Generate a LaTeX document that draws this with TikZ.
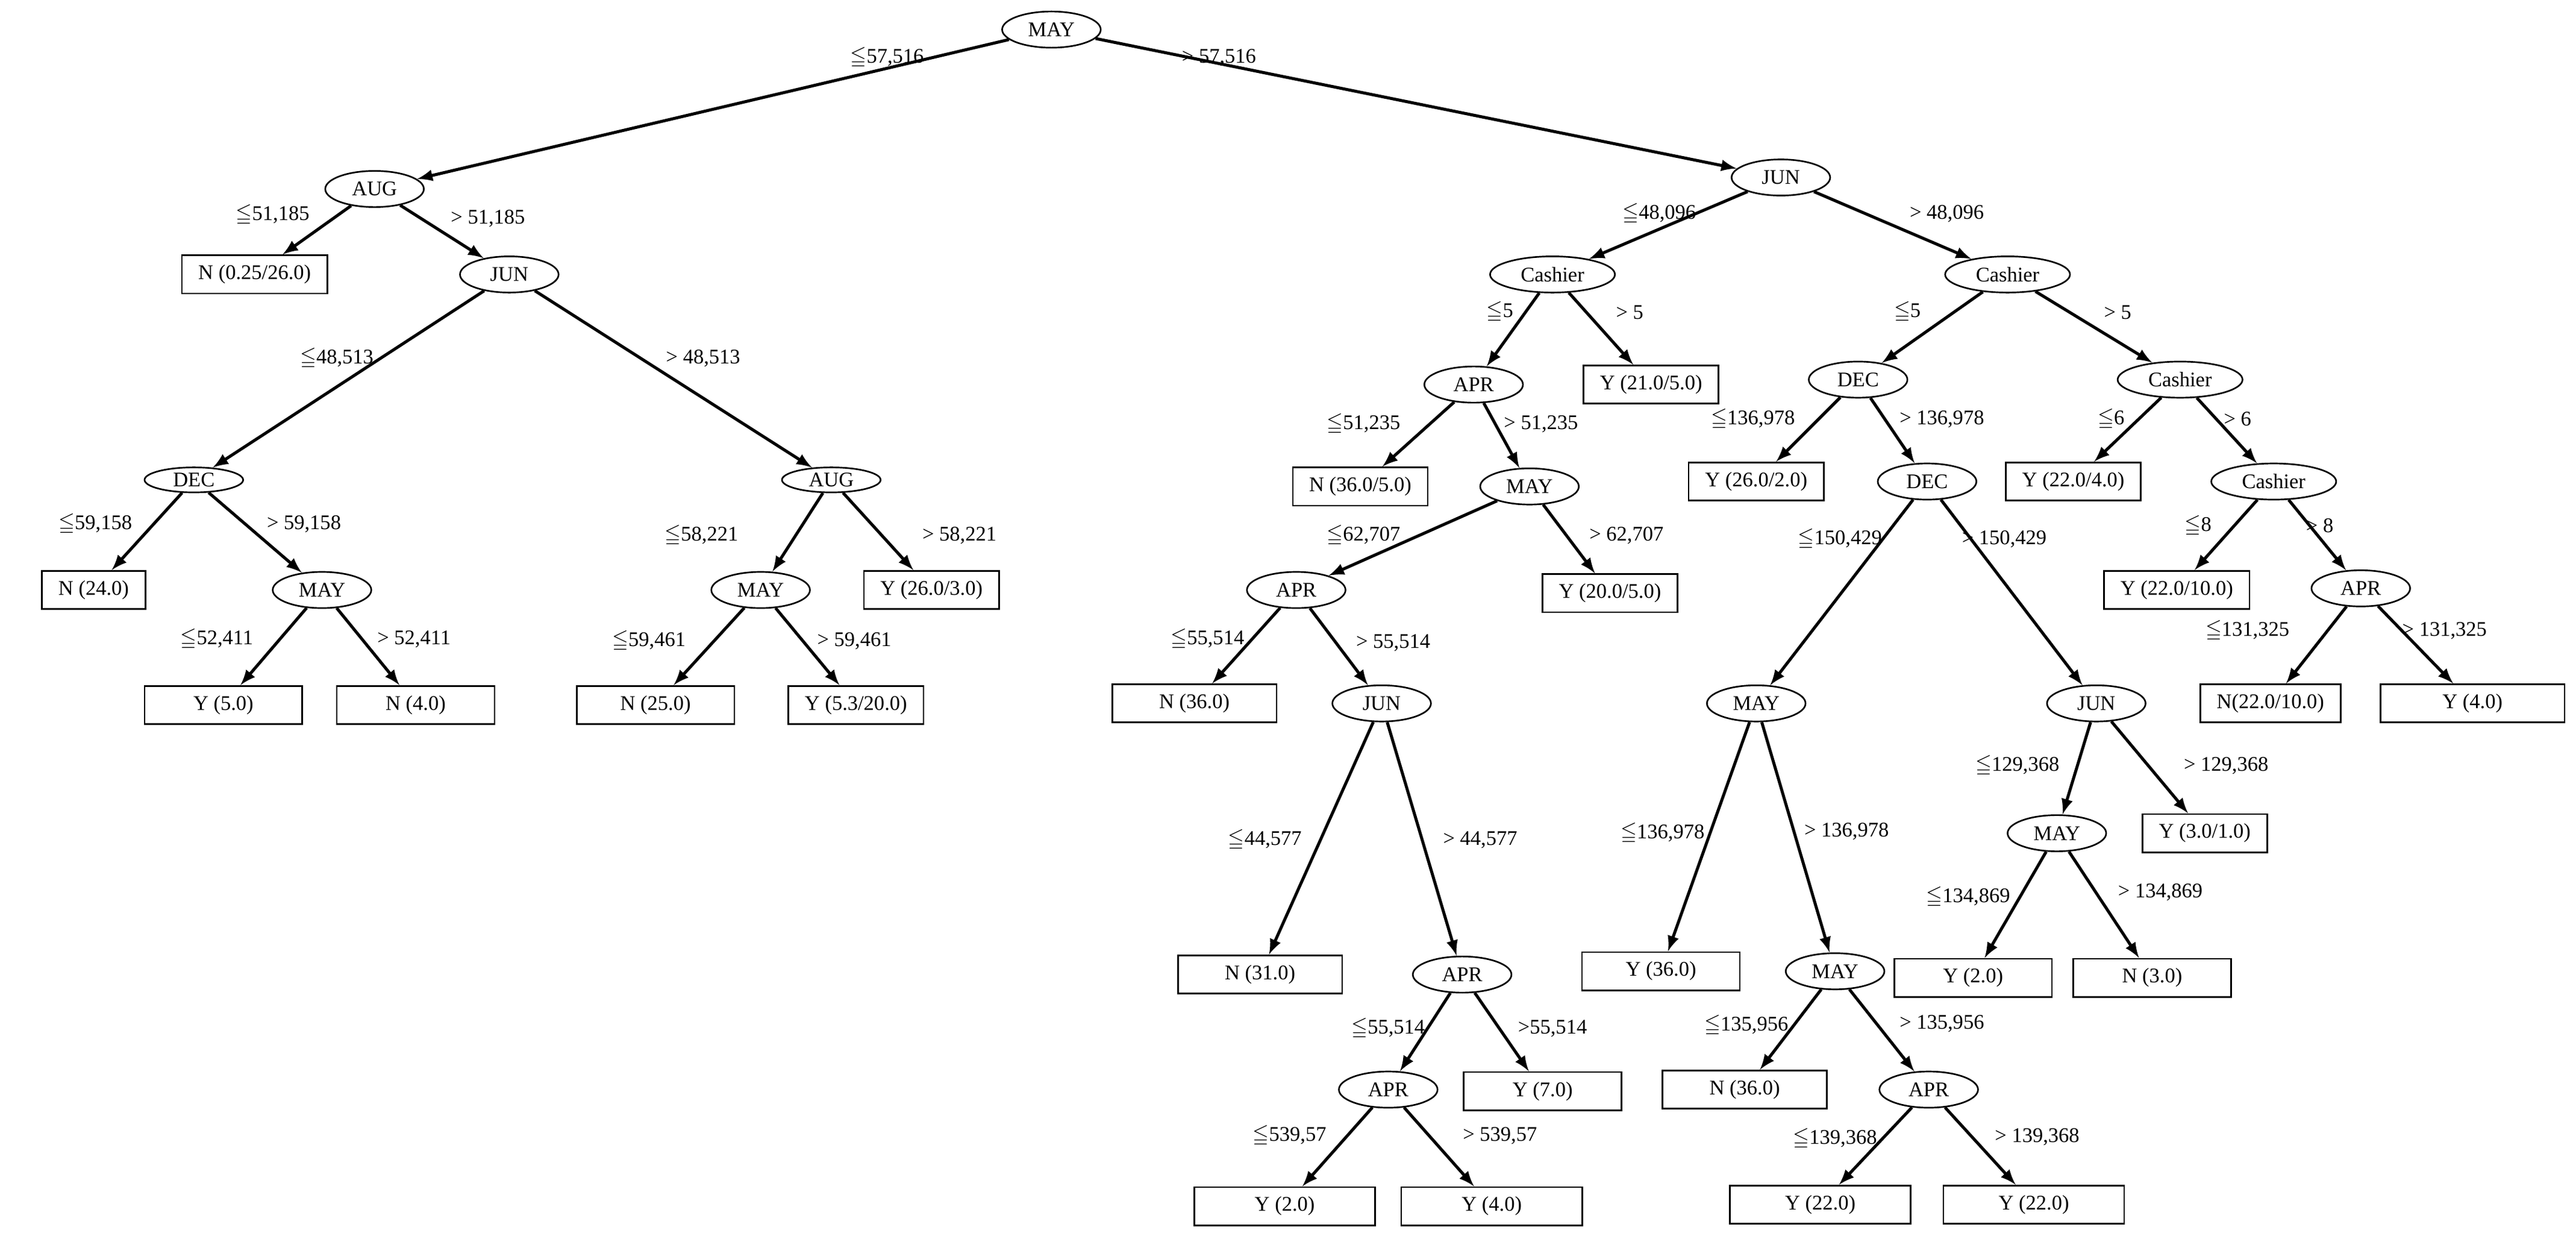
\documentclass[tikz,border=0pt]{standalone}
\usepackage{amssymb,amsmath}
\usepackage{fontspec}
\setmainfont{Liberation Serif}
\usetikzlibrary{shapes.geometric, arrows, positioning}
\newcommand{\leqs}{$\leqq$}

\begin{document}
\begin{tikzpicture}[x=0.025cm,y=-0.025cm]
		\tikzset{
			test/.style={ellipse, draw, line width=0.7pt, inner xsep=2pt, inner ysep=0pt,
			minimum height=0.55cm, minimum width=1.5cm, font=\fontsize{9}{10}\selectfont},
			flat/.style={test, minimum height=0.38cm},
			leaf/.style={rectangle, draw, line width=0.7pt, inner xsep=0.25cm,
			minimum height=0.58cm, font=\fontsize{9}{10}\selectfont},
			lab/.style={font=\fontsize{9}{10}\selectfont, inner sep=0pt},
			arr/.style={-latex, line width=1.3pt},
		}
		\useasboundingbox (0,0) rectangle (1568,750);

		% left subtree
		\node[test](root) at (640,18){MAY};
		\node[test](aug1) at (228,115){AUG};
		\node[leaf](n1) at (155,167){N (0.25/26.0)};
		\node[test](jun1) at (310,167){JUN};
		\node[flat](dec1) at (118,292){DEC};
		\node[flat](aug2) at (506,292){AUG};
		\node[leaf](n2) at (57,359){N (24.0)};
		\node[test](may2) at (196,359){MAY};
		\node[test](may3) at (463,359){MAY};
		\node[leaf](y1) at (567,359){Y (26.0/3.0)};
		\node[leaf, minimum width=2.4cm](y2) at (136,429){Y (5.0)};
		\node[leaf, minimum width=2.4cm](n3) at (253,429){N (4.0)};
		\node[leaf, minimum width=2.4cm](n4) at (399,429){N (25.0)};
		\node[leaf](y3) at (521,429){Y (5.3/20.0)};

		% right subtree
		\node[test](jun2) at (1084,108){JUN};
		\node[test, minimum width=1.9cm](cas1) at (945,167){Cashier};
		\node[test, minimum width=1.9cm](cas2) at (1222,167){Cashier};
		\node[test](apr1) at (897,234){APR};
		\node[leaf](y4) at (1005,234){Y (21.0/5.0)};
		\node[test](dec2) at (1131,231){DEC};
		\node[test, minimum width=1.9cm](cas3) at (1327,231){Cashier};
		\node[leaf](n5) at (828,296){N (36.0/5.0)};
		\node[test](may4) at (931,296){MAY};
		\node[leaf](y5) at (1069,293){Y (26.0/2.0)};
		\node[test](dec3) at (1173,293){DEC};
		\node[leaf](y6) at (1262,293){Y (22.0/4.0)};
		\node[test, minimum width=1.9cm](cas4) at (1384,293){Cashier};
		\node[test](apr2) at (789,359){APR};
		\node[leaf](y7) at (980,361){Y (20.0/5.0)};
		\node[leaf](y8) at (1325,359){Y (22.0/10.0)};
		\node[test](apr3) at (1437,358){APR};
		\node[leaf, minimum width=2.5cm](n6) at (727,428){N (36.0)};
		\node[test](jun3) at (841,428){JUN};
		\node[test](may5) at (1069,428){MAY};
		\node[test](jun4) at (1276,428){JUN};
		\node[leaf](n7) at (1382,428){N(22.0/10.0)};
		\node[leaf, minimum width=2.8cm](y9) at (1505,428){Y (4.0)};
		\node[test](may6) at (1252,507){MAY};
		\node[leaf](y10) at (1342,507){Y (3.0/1.0)};
		\node[leaf, minimum width=2.5cm](n8) at (767,593){N (31.0)};
		\node[test](apr4) at (890,593){APR};
		\node[leaf, minimum width=2.4cm](y11) at (1011,591){Y (36.0)};
		\node[test](may7) at (1117,591){MAY};
		\node[leaf, minimum width=2.4cm](y12) at (1201,595){Y (2.0)};
		\node[leaf, minimum width=2.4cm](n9) at (1310,595){N (3.0)};
		\node[test](apr5) at (845,663){APR};
		\node[leaf, minimum width=2.4cm](y13) at (939,664){Y (7.0)};
		\node[leaf, minimum width=2.5cm](n10) at (1062,663){N (36.0)};
		\node[test](apr6) at (1174,663){APR};
		\node[leaf, minimum width=2.75cm](y14) at (782,734){Y (2.0)};
		\node[leaf, minimum width=2.75cm](y15) at (908,734){Y (4.0)};
		\node[leaf, minimum width=2.75cm](y16) at (1108,733){Y (22.0)};
		\node[leaf, minimum width=2.75cm](y17) at (1238,733){Y (22.0)};

		% connectors
		\draw[arr](root) -- (aug1);
		\draw[arr](root) -- (jun2);
		\draw[arr](aug1) -- (n1);
		\draw[arr](aug1) -- (jun1);
		\draw[arr](jun1) -- (dec1);
		\draw[arr](jun1) -- (aug2);
		\draw[arr](dec1) -- (n2);
		\draw[arr](dec1) -- (may2);
		\draw[arr](aug2) -- (may3);
		\draw[arr](aug2) -- (y1);
		\draw[arr](may2) -- (y2);
		\draw[arr](may2) -- (n3);
		\draw[arr](may3) -- (n4);
		\draw[arr](may3) -- (y3);
		\draw[arr](jun2) -- (cas1);
		\draw[arr](jun2) -- (cas2);
		\draw[arr](cas1) -- (apr1);
		\draw[arr](cas1) -- (y4);
		\draw[arr](cas2) -- (dec2);
		\draw[arr](cas2) -- (cas3);
		\draw[arr](apr1) -- (n5);
		\draw[arr](apr1) -- (may4);
		\draw[arr](dec2) -- (y5);
		\draw[arr](dec2) -- (dec3);
		\draw[arr](cas3) -- (y6);
		\draw[arr](cas3) -- (cas4);
		\draw[arr](may4) -- (apr2);
		\draw[arr](may4) -- (y7);
		\draw[arr](cas4) -- (y8);
		\draw[arr](cas4) -- (apr3);
		\draw[arr](apr2) -- (n6);
		\draw[arr](apr2) -- (jun3);
		\draw[arr](dec3) -- (may5);
		\draw[arr](dec3) -- (jun4);
		\draw[arr](apr3) -- (n7);
		\draw[arr](apr3) -- (y9);
		\draw[arr](jun4) -- (may6);
		\draw[arr](jun4) -- (y10);
		\draw[arr](jun3) -- (n8);
		\draw[arr](jun3) -- (apr4);
		\draw[arr](may5) -- (y11);
		\draw[arr](may5) -- (may7);
		\draw[arr](may6) -- (y12);
		\draw[arr](may6) -- (n9);
		\draw[arr](apr4) -- (apr5);
		\draw[arr](apr4) -- (y13);
		\draw[arr](may7) -- (n10);
		\draw[arr](may7) -- (apr6);
		\draw[arr](apr5) -- (y14);
		\draw[arr](apr5) -- (y15);
		\draw[arr](apr6) -- (y16);
		\draw[arr](apr6) -- (y17);

		% branch labels
		\node[lab] at (540,35){\leqs57,516};      \node[lab] at (742,35){> 57,516};
		\node[lab] at (166,131){\leqs51,185};     \node[lab] at (297,133){> 51,185};
		\node[lab] at (205,218){\leqs48,513};     \node[lab] at (428,218){> 48,513};
		\node[lab] at (58,319){\leqs59,158};      \node[lab] at (185,319){> 59,158};
		\node[lab] at (427,326){\leqs58,221};     \node[lab] at (584,326){> 58,221};
		\node[lab] at (132,389){\leqs52,411};     \node[lab] at (252,389){> 52,411};
		\node[lab] at (395,390){\leqs59,461};     \node[lab] at (520,390){> 59,461};
		\node[lab] at (1010,130){\leqs48,096};    \node[lab] at (1185,130){> 48,096};
		\node[lab] at (913,190){\leqs5};          \node[lab] at (992,190){> 5};
		\node[lab] at (1161,190){\leqs5};         \node[lab] at (1289,190){> 5};
		\node[lab] at (830,258){\leqs51,235};     \node[lab] at (938,258){> 51,235};
		\node[lab] at (1067,255){\leqs136,978};   \node[lab] at (1182,255){> 136,978};
		\node[lab] at (1285,255){\leqs6};         \node[lab] at (1362,255){> 6};
		\node[lab] at (830,326){\leqs62,707};     \node[lab] at (990,326){> 62,707};
		\node[lab] at (1120,328){\leqs150,429};   \node[lab] at (1220,328){> 150,429};
		\node[lab] at (1338,320){\leqs8};         \node[lab] at (1412,320){> 8};
		\node[lab] at (735,389){\leqs55,514};     \node[lab] at (848,391){> 55,514};
		\node[lab] at (1368,384){\leqs131,325};   \node[lab] at (1488,384){> 131,325};
		\node[lab] at (770,511){\leqs44,577};     \node[lab] at (901,511){> 44,577};
		\node[lab] at (1012,507){\leqs136,978};   \node[lab] at (1124,506){> 136,978};
		\node[lab] at (1228,466){\leqs129,368};   \node[lab] at (1355,466){> 129,368};
		\node[lab] at (1198,546){\leqs134,869};   \node[lab] at (1315,543){> 134,869};
		\node[lab] at (845,626){\leqs55,514};     \node[lab] at (945,626){>55,514};
		\node[lab] at (1063,624){\leqs135,956};   \node[lab] at (1182,623){> 135,956};
		\node[lab] at (785,691){\leqs539,57};     \node[lab] at (913,691){> 539,57};
		\node[lab] at (1117,693){\leqs139,368};   \node[lab] at (1240,692){> 139,368};
	\end{tikzpicture}
\end{document}
